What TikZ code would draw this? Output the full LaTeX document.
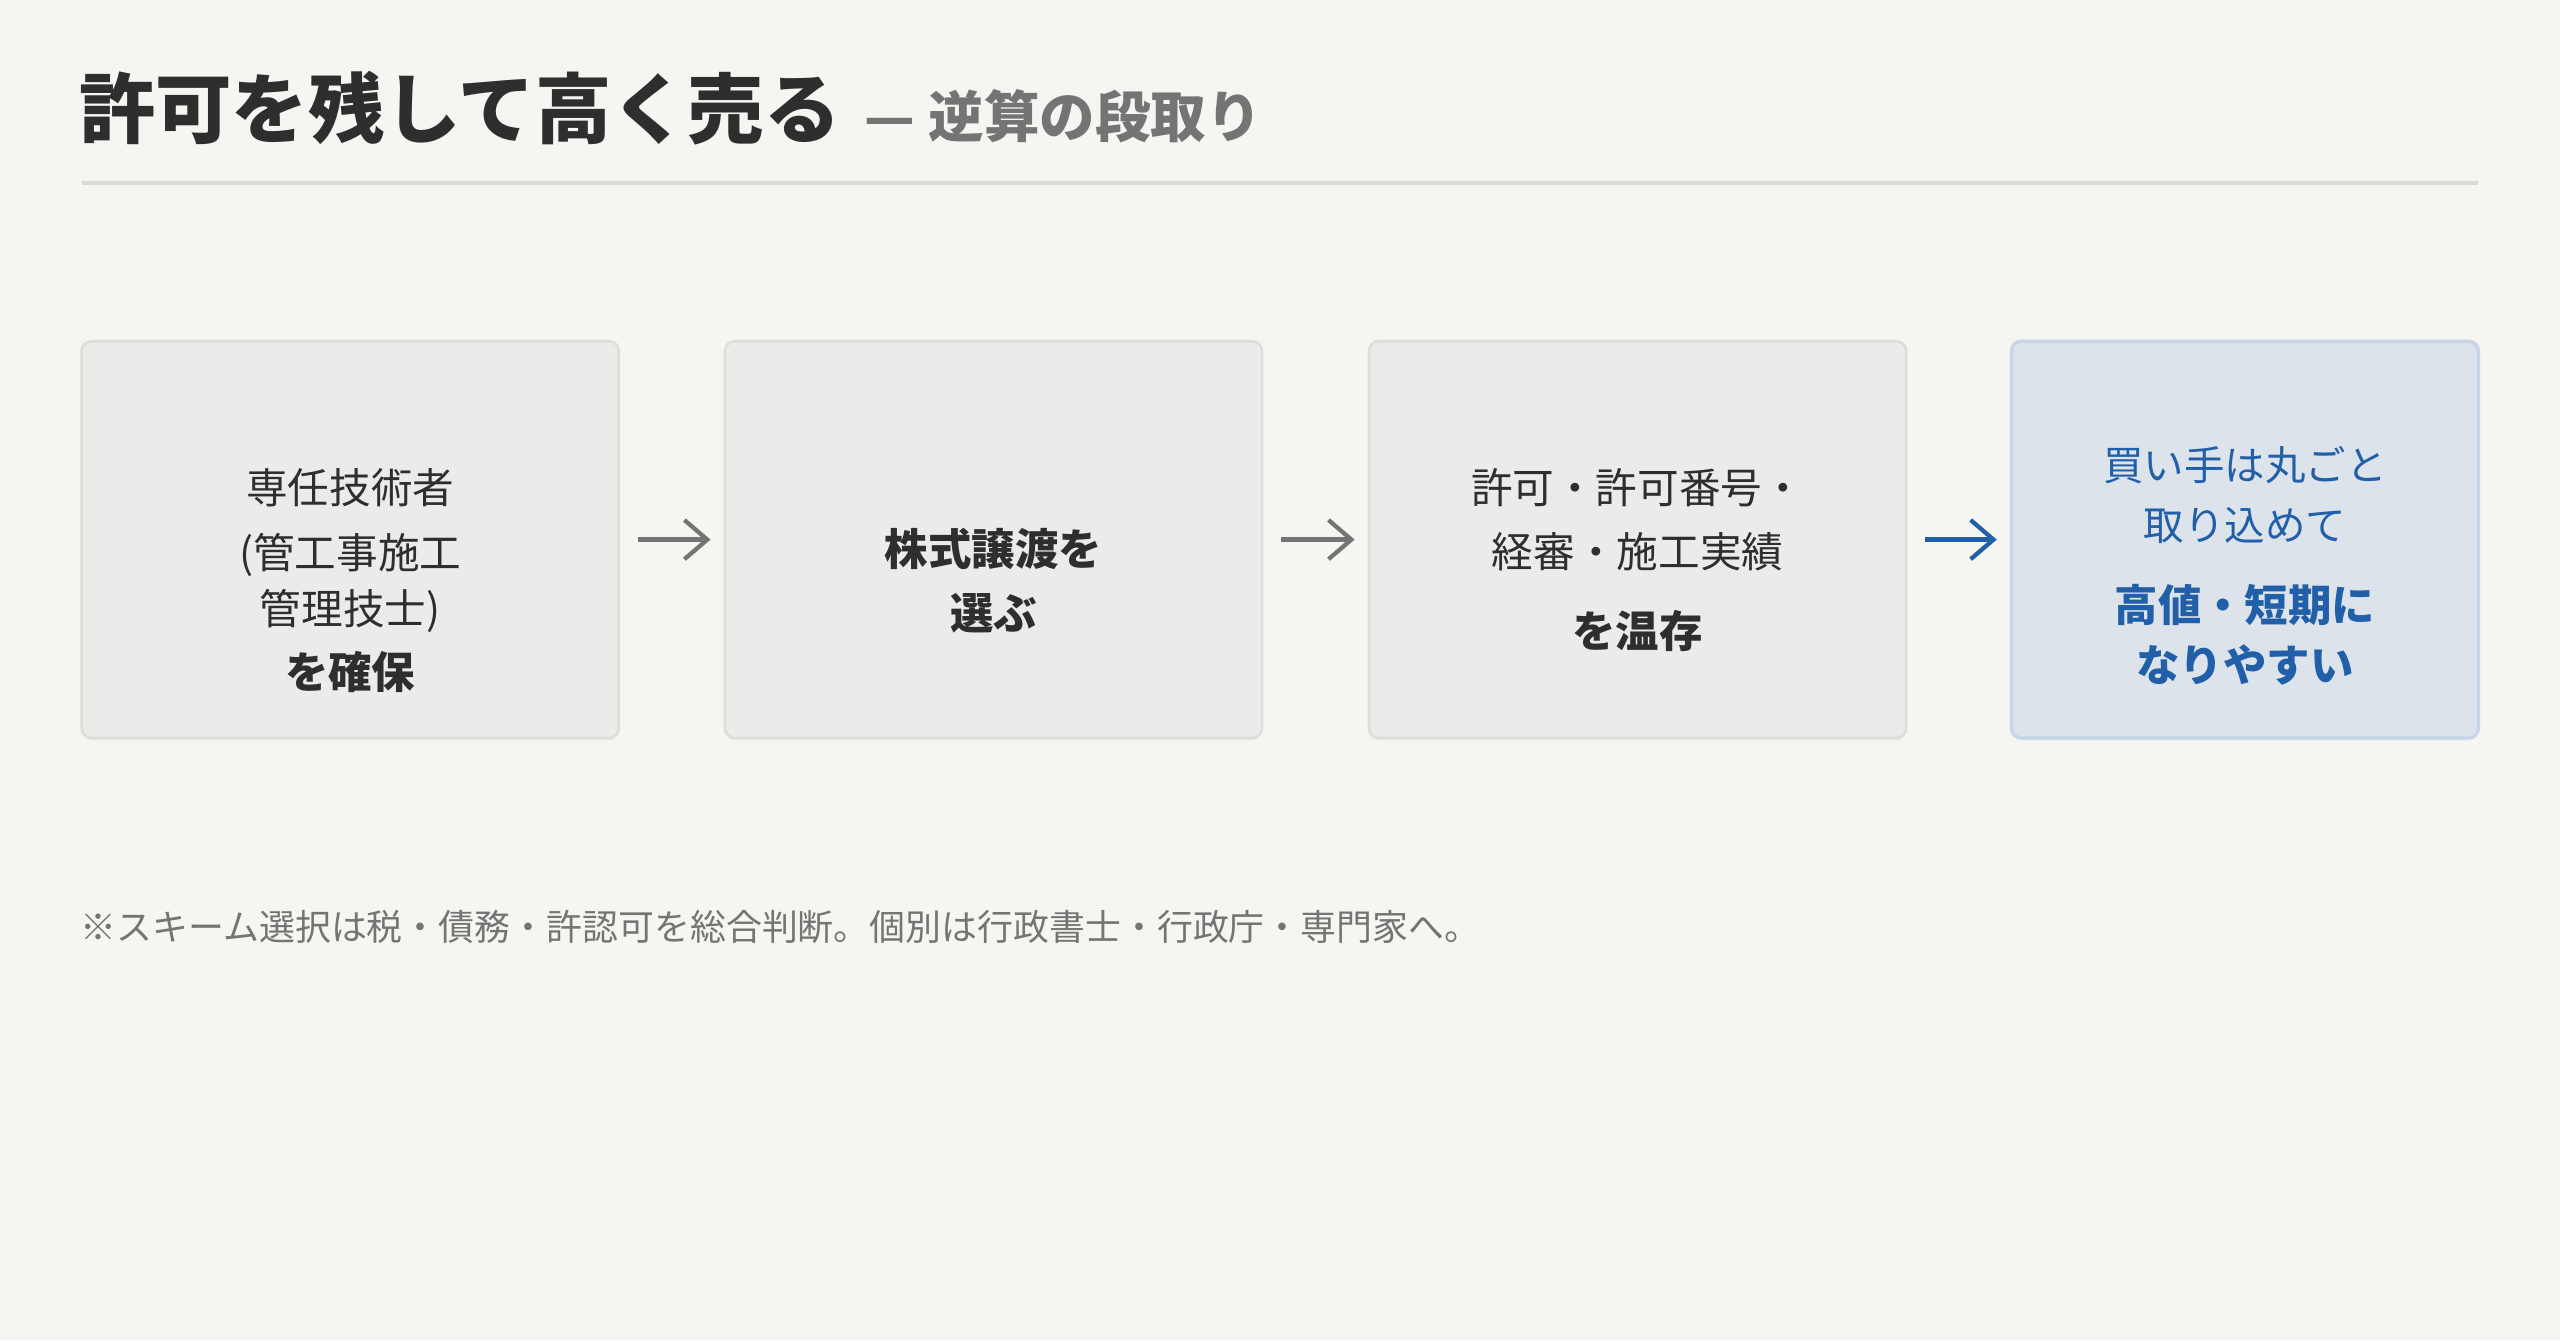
\documentclass[tikz,border=0pt]{standalone}
\usepackage{fontspec}
\setmainfont{Noto Sans CJK JP}
\usepackage{xcolor}
\usetikzlibrary{arrows.meta,positioning,shadows}

\definecolor{bgcol}{HTML}{F5F5F1}
\definecolor{boxfill}{HTML}{EBEBE9}
\definecolor{boxline}{HTML}{DDDDDB}
\definecolor{goalfill}{HTML}{DDE3EB}
\definecolor{goalline}{HTML}{C6D5E7}
\definecolor{goalblue}{HTML}{2160A8}
\definecolor{inkdark}{HTML}{2E2E2E}
\definecolor{inkgray}{HTML}{747474}
\definecolor{rulegray}{HTML}{DADAD8}

\newcommand{\keyline}[1]{{\bfseries\fontsize{13.3}{17}\selectfont #1}}

\begin{document}
\begin{tikzpicture}[x=0.5pt,y=-0.5pt,
  stepbox/.style={draw=boxline,fill=boxfill,line width=0.8pt,rounded corners=3pt,
    minimum width=164.5pt,minimum height=121.5pt,inner sep=0pt,
    drop shadow={shadow xshift=0pt,shadow yshift=-0.8pt,opacity=0.06}},
  goalbox/.style={stepbox,draw=goalline,fill=goalfill,minimum width=143pt,line width=1pt},
  steptext/.style={align=center,text=inkdark,inner sep=0pt,font=\fontsize{12.75}{17}\selectfont},
  goaltext/.style={steptext,text=goalblue,font=\fontsize{12.4}{17}\selectfont},
  flow/.style={-{Straight Barb[length=7pt,width=12pt,line width=1.3pt]},line width=1.3pt,
    draw=inkgray,shorten <=5.5pt,shorten >=4pt},
]
\useasboundingbox[fill=bgcol] (0,0) rectangle (1568,821);

% heading
\node[anchor=west,inner sep=0pt,text=inkdark,font=\fontsize{23.4}{23.4}\selectfont\bfseries] (title) at (48,66.5) {許可を残して高く売る};
\node[anchor=base west,inner sep=0pt,text=inkgray,font=\fontsize{17}{17}\selectfont\bfseries] (subtitle) at ([xshift=7pt]title.base east) {— 逆算の段取り};
\draw[rulegray,line width=1pt] (50,112) -- (1518,112);

% steps
\node[stepbox] (s1) at (214.5,330.5) {};
\node[stepbox] (s2) at (608.5,330.5) {};
\node[stepbox] (s3) at (1003,330.5) {};
\node[goalbox] (s4) at (1375,330.5) {};

\node[steptext] (t1) at (214.5,355.5) {専任技術者\\[3pt](管工事施工\\管理技士)\\[2.5pt]\keyline{を確保}};
\node[steptext,font=\bfseries\fontsize{13.3}{19.5}\selectfont] (t2) at (608.5,355.5) {株式譲渡を\\選ぶ};
\node[steptext] (t3) at (1003,343) {許可・許可番号・\\[2.5pt]経審・施工実績\\[7.5pt]\keyline{を温存}};
\node[goaltext] (t4) at (1375,346.5) {買い手は丸ごと\\[1.25pt]取り込めて\\[8pt]\keyline{高値・短期に}\\[1.25pt]\keyline{なりやすい}};

\draw[flow] (s1) -- (s2);
\draw[flow] (s2) -- (s3);
\draw[flow,draw=goalblue] (s3) -- (s4);

% footnote
\node[anchor=west,inner sep=0pt,text=inkgray,font=\fontsize{11}{11}\selectfont] (note) at (49,568) {※スキーム選択は税・債務・許認可を総合判断。個別は行政書士・行政庁・専門家へ。};
\end{tikzpicture}
\end{document}
